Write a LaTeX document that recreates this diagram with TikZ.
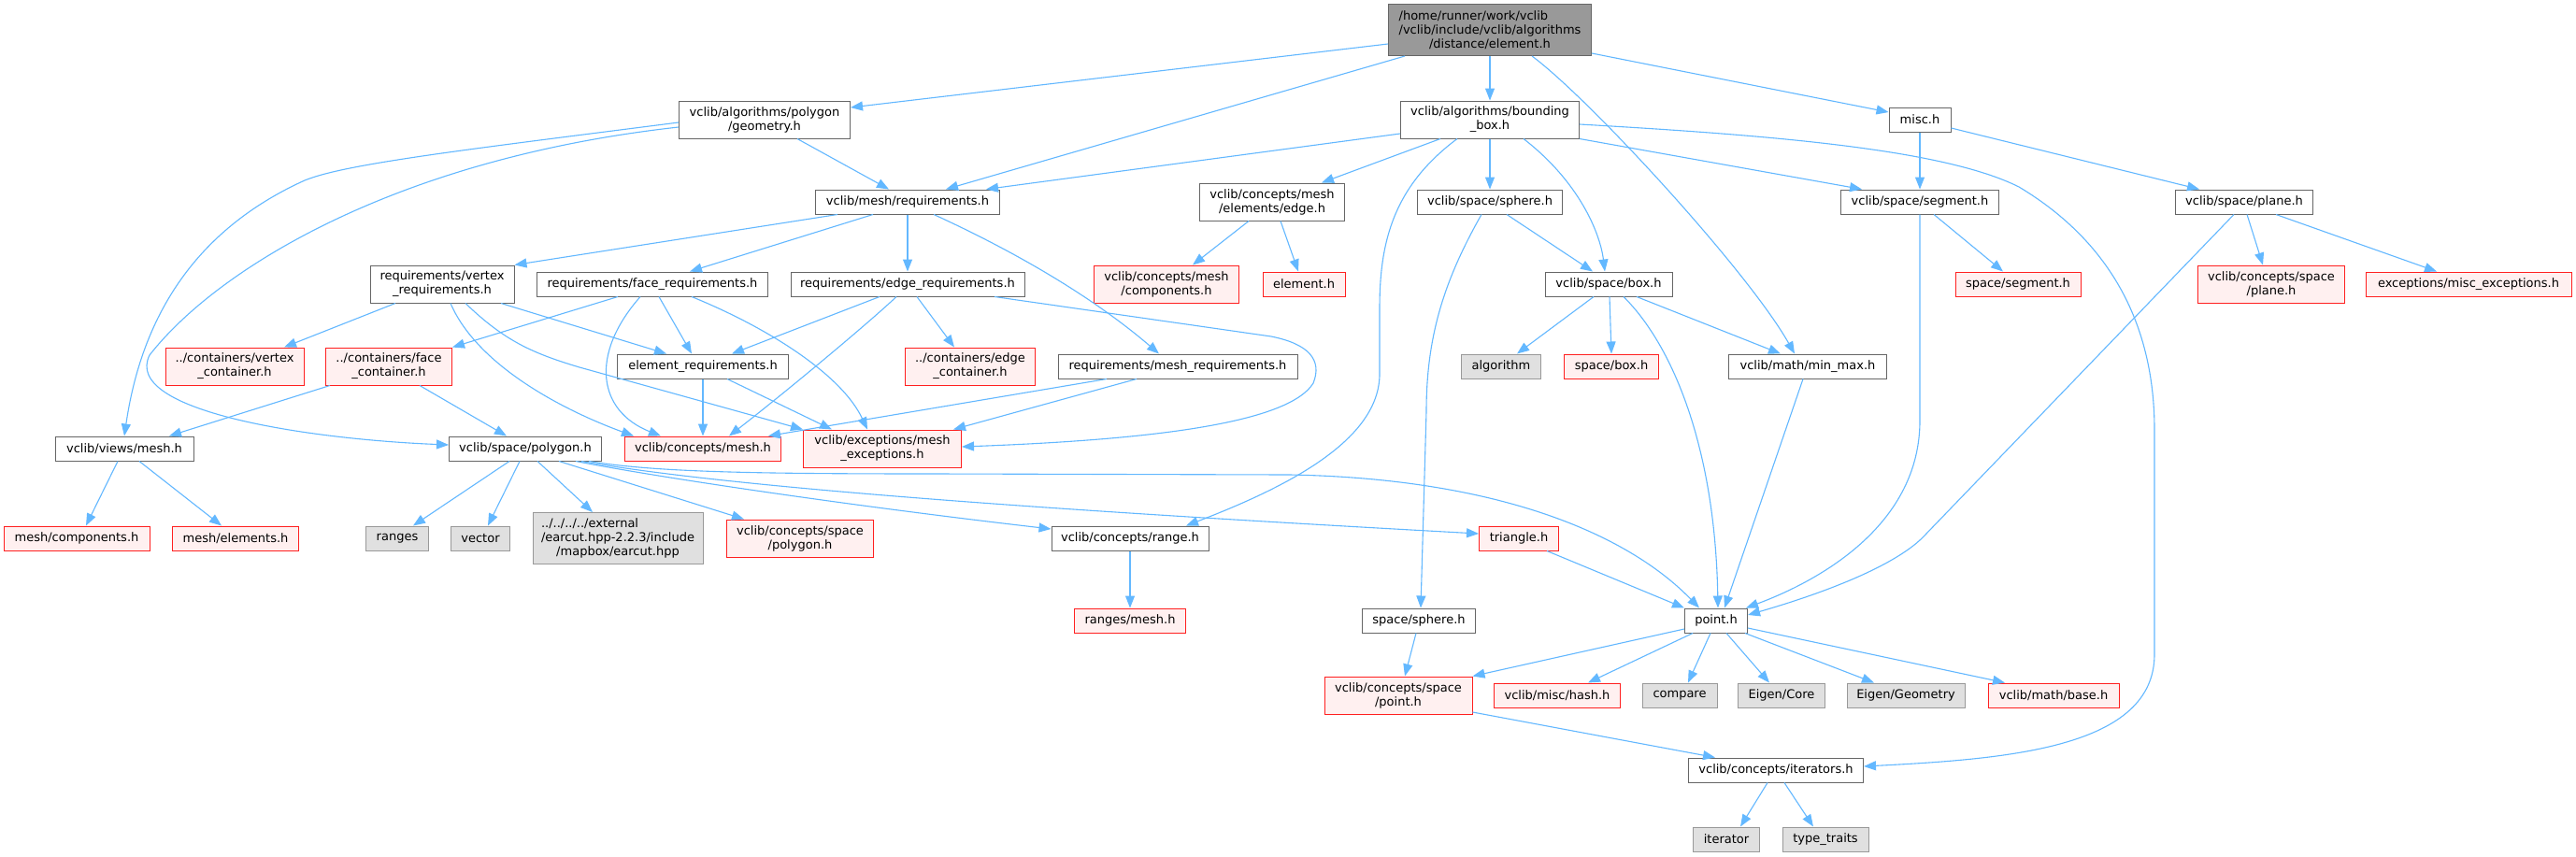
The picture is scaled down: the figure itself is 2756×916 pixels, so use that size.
\documentclass[tikz,border=0pt]{standalone}
\usepackage{fontspec}
\setmainfont{DejaVu Sans}
\usetikzlibrary{arrows.meta,calc}
\definecolor{edgec}{HTML}{63B8FF}
\definecolor{bordc}{HTML}{666666}
\definecolor{mainf}{HTML}{999999}
\definecolor{redf}{HTML}{FFF0F0}
\definecolor{redb}{HTML}{FF2020}
\definecolor{sysf}{HTML}{E0E0E0}
\definecolor{sysb}{HTML}{999999}
\tikzset{
  nbase/.style={rectangle, draw=bordc, line width=1pt, fill=white, inner xsep=6pt, inner ysep=0pt,
    align=center, font=\fontsize{13}{15}\selectfont, text=black, minimum height=26pt},
  two/.style={minimum height=40pt},
  three/.style={minimum height=55pt},
  redn/.style={nbase, draw=redb, fill=redf},
  sysn/.style={nbase, draw=sysb, fill=sysf},
  mainn/.style={nbase, draw=bordc, fill=mainf},
  dep/.style={draw=edgec, line width=1.1pt, -{Triangle[length=13pt,width=10pt]}},
}
\begin{document}
\begin{tikzpicture}[x=1pt,y=-1pt]
\useasboundingbox[fill=white] (0,0) rectangle (2756,916);
% row 0
\node[mainn, three, minimum width=217pt] (main) at (1594,32) {\rlap{/home/runner/work/vclib}\phantom{/vclib/include/vclib/algorithms}\\/vclib/include/vclib/algorithms\\/distance/element.h};
% row 1
\node[nbase, two, minimum width=183pt] (geom) at (818,128) {vclib/algorithms/polygon\\/geometry.h};
\node[nbase, two, minimum width=191pt] (bbox) at (1594,128) {vclib/algorithms/bounding\\\_box.h};
\node[nbase, minimum width=66pt] (misc) at (2054,128) {misc.h};
% row 2
\node[nbase, minimum width=197pt] (req) at (971,216) {vclib/mesh/requirements.h};
\node[nbase, two, minimum width=155pt] (edge) at (1361,216) {vclib/concepts/mesh\\/elements/edge.h};
\node[nbase, minimum width=155pt] (sphere) at (1594,216) {vclib/space/sphere.h};
\node[nbase, minimum width=169pt] (segment) at (2054,216) {vclib/space/segment.h};
\node[nbase, minimum width=147pt] (plane) at (2401,216) {vclib/space/plane.h};
% row 3
\node[nbase, two, minimum width=154pt] (vreq) at (473,304) {requirements/vertex\\\_requirements.h};
\node[nbase, minimum width=247pt] (freq) at (698,304) {requirements/face\_requirements.h};
\node[nbase, minimum width=250pt] (ereq) at (971,304) {requirements/edge\_requirements.h};
\node[redn, two, minimum width=155pt] (cmcomp) at (1248,304) {vclib/concepts/mesh\\/components.h};
\node[redn, minimum width=88pt] (elemh) at (1395,304) {element.h};
\node[nbase, minimum width=136pt] (box) at (1721,304) {vclib/space/box.h};
\node[redn, minimum width=134pt] (ssegment) at (2159,304) {space/segment.h};
\node[redn, two, minimum width=157pt] (cplane) at (2430,304) {vclib/concepts/space\\/plane.h};
\node[redn, minimum width=220pt] (miscexc) at (2641,304) {exceptions/misc\_exceptions.h};
% row 4
\node[redn, two, minimum width=148pt] (vcont) at (251,392) {../containers/vertex\\\_container.h};
\node[redn, two, minimum width=135pt] (fcont) at (416,392) {../containers/face\\\_container.h};
\node[nbase, minimum width=183pt] (elreq) at (752,392) {element\_requirements.h};
\node[redn, two, minimum width=139pt] (econt) at (1038,392) {../containers/edge\\\_container.h};
\node[nbase, minimum width=256pt] (mreq) at (1260,392) {requirements/mesh\_requirements.h};
\node[sysn, minimum width=85pt] (algorithm) at (1606,392) {algorithm};
\node[redn, minimum width=101pt] (sbox) at (1724,392) {space/box.h};
\node[nbase, minimum width=169pt] (minmax) at (1934,392) {vclib/math/min\_max.h};
% row 5
\node[nbase, minimum width=148pt] (views) at (133,480) {vclib/views/mesh.h};
\node[nbase, minimum width=163pt] (polygon) at (562,480) {vclib/space/polygon.h};
\node[redn, minimum width=167pt] (cmesh) at (752,480) {vclib/concepts/mesh.h};
\node[redn, two, minimum width=169pt] (mexc) at (944,480) {vclib/exceptions/mesh\\\_exceptions.h};
% row 6
\node[redn, minimum width=156pt] (mcomp) at (82,576) {mesh/components.h};
\node[redn, minimum width=135pt] (melem) at (252,576) {mesh/elements.h};
\node[sysn, minimum width=67pt] (ranges) at (425,576) {ranges};
\node[sysn, minimum width=63pt] (vector) at (514,576) {vector};
\node[sysn, three, minimum width=182pt] (earcut) at (661,576) {\rlap{../../../../external}\phantom{/earcut.hpp-2.2.3/include}\\/earcut.hpp-2.2.3/include\\/mapbox/earcut.hpp};
\node[redn, two, minimum width=157pt] (cpoly) at (856,576) {vclib/concepts/space\\/polygon.h};
\node[nbase, minimum width=168pt] (range) at (1209,576) {vclib/concepts/range.h};
\node[redn, minimum width=85pt] (triangle) at (1625,576) {triangle.h};
% row 7
\node[redn, minimum width=119pt] (rmesh) at (1209,664) {ranges/mesh.h};
\node[nbase, minimum width=121pt] (ssphere) at (1518,664) {space/sphere.h};
\node[nbase, minimum width=67pt] (point) at (1836,664) {point.h};
% row 8
\node[redn, two, minimum width=158pt] (cpoint) at (1496,744) {vclib/concepts/space\\/point.h};
\node[redn, minimum width=135pt] (hash) at (1666,744) {vclib/misc/hash.h};
\node[sysn, minimum width=80pt] (compare) at (1797,744) {compare};
\node[sysn, minimum width=93pt] (ecore) at (1906,744) {Eigen/Core};
\node[sysn, minimum width=126pt] (egeom) at (2039,744) {Eigen/Geometry};
\node[redn, minimum width=140pt] (base) at (2197,744) {vclib/math/base.h};
% row 9
\node[nbase, minimum width=187pt] (iters) at (1900,824) {vclib/concepts/iterators.h};
% row 10
\node[sysn, minimum width=71pt] (iterator) at (1847,898) {iterator};
\node[sysn, minimum width=92pt] (ttraits) at (1953,898) {type\_traits};

% ---- edges ----
% main
\draw[dep] ($(main.west)+(0,15)$) -- ($(geom.east)+(0,-13)$);
\draw[dep] ($(main.south)+(-91,0)$) -- ($(req.north)+(41,0)$);
\draw[dep] (main.south) -- (bbox.north);
\draw[dep] ($(main.south)+(45,0)$) .. controls (1700,105) and (1870,290) .. ($(minmax.north)+(-14,0)$);
\draw[dep] ($(main.east)+(0,25)$) -- ($(misc.west)+(0,-8)$);
% geometry
\draw[dep] ($(geom.south)+(35,0)$) -- ($(req.north)+(-20,0)$);
\draw[dep] ($(geom.west)+(0,3)$) .. controls (500,160) and (370,175) .. (326,193) .. controls (200,250) and (150,350) .. (views.north);
\draw[dep] ($(geom.west)+(0,8)$) .. controls (420,170) and (230,290) .. (160,380) .. controls (130,440) and (330,470) .. ($(polygon.west)+(0,-4)$);
% mesh/requirements
\draw[dep] ($(req.south)+(-75,0)$) -- (vreq.north east);
\draw[dep] ($(req.south)+(-37,0)$) -- ($(freq.north)+(40,0)$);
\draw[dep] (req.south) -- (ereq.north);
\draw[dep] ($(req.south)+(28,0)$) .. controls (1070,262) and (1160,310) .. ($(mreq.north)+(-20,0)$);
% bounding box
\draw[dep] ($(bbox.west)+(0,15)$) -- ($(req.north)+(84,0)$);
\draw[dep] ($(bbox.south)+(-53,0)$) -- ($(edge.north)+(53,0)$);
\draw[dep] (bbox.south) -- (sphere.north);
\draw[dep] ($(bbox.south)+(36,0)$) .. controls (1690,195) and (1712,250) .. ($(box.north)+(-4,0)$);
\draw[dep] (bbox.south east) -- ($(segment.north)+(-62,0)$);
\draw[dep] ($(bbox.east)+(0,5)$) .. controls (1900,145) and (2080,160) .. (2160,200) .. controls (2260,260) and (2305,350) .. (2305,460) -- (2305,700) .. controls (2305,800) and (2150,812) .. ($(iters.east)+(0,-4)$);
\draw[dep] ($(bbox.south)+(-35,0)$) .. controls (1490,200) and (1476,260) .. (1476,330) -- (1476,400) .. controls (1476,470) and (1380,520) .. ($(range.north)+(60,0)$);
% misc
\draw[dep] (misc.south) -- (segment.north);
\draw[dep] ($(misc.east)+(0,9)$) -- ($(plane.north)+(-48,0)$);
% edge.h
\draw[dep] ($(edge.south)+(-25,0)$) -- ($(cmcomp.north)+(28,0)$);
\draw[dep] ($(edge.south)+(9,0)$) -- ($(elemh.north)+(-6,0)$);
% sphere
\draw[dep] ($(sphere.south)+(18,0)$) -- ($(box.north)+(-17,0)$);
\draw[dep] ($(sphere.south)+(-9,0)$) .. controls (1545,300) and (1526,360) .. (1526,440) -- ($(ssphere.north)+(2,0)$);
% box
\draw[dep] ($(box.south)+(-16,0)$) -- ($(algorithm.north)+(17,0)$);
\draw[dep] ($(box.south)+(1,0)$) -- (sbox.north);
\draw[dep] ($(box.south)+(30,0)$) -- ($(minmax.north)+(-29,0)$);
\draw[dep] ($(box.south)+(16,0)$) .. controls (1790,370) and (1835,480) .. ($(point.north)+(2,0)$);
% min_max
\draw[dep] ($(minmax.south)+(-5,0)$) -- ($(point.north)+(9,0)$);
% segment
\draw[dep] ($(segment.south)+(15,0)$) -- ($(ssegment.north)+(-16,0)$);
\draw[dep] (segment.south) -- (2054,450) .. controls (2054,560) and (1950,620) .. ($(point.north east)+(-2,0)$);
% plane
\draw[dep] ($(plane.south)+(-11,0)$) -- (2060,572) .. controls (2030,605) and (1950,635) .. ($(point.east)+(0,-6)$);
\draw[dep] ($(plane.south)+(3,0)$) -- ($(cplane.north)+(-9,0)$);
\draw[dep] ($(plane.south)+(34,0)$) -- ($(miscexc.north)+(-34,0)$);
% vertex requirements
\draw[dep] ($(vreq.south)+(-50,0)$) -- ($(vcont.north)+(53,0)$);
\draw[dep] ($(vreq.south)+(63,0)$) -- ($(elreq.north)+(-39,0)$);
\draw[dep] ($(vreq.south)+(9,0)$) .. controls (510,390) and (600,438) .. ($(cmesh.north)+(-74,0)$);
\draw[dep] ($(vreq.south)+(25,0)$) .. controls (540,365) and (570,378) .. (620,393) -- (mexc.north west);
% face requirements
\draw[dep] ($(freq.south)+(-37,0)$) -- (fcont.north east);
\draw[dep] ($(freq.south)+(7,0)$) -- ($(elreq.north)+(-12,0)$);
\draw[dep] ($(freq.south)+(-13,0)$) .. controls (630,380) and (640,440) .. ($(cmesh.north)+(-45,0)$);
\draw[dep] ($(freq.south)+(42,0)$) .. controls (820,350) and (900,400) .. ($(mexc.north)+(-16,0)$);
% edge requirements
\draw[dep] ($(ereq.south)+(-30,0)$) -- ($(elreq.north)+(31,0)$);
\draw[dep] ($(ereq.south)+(10,0)$) -- ($(econt.north)+(-17,0)$);
\draw[dep] ($(ereq.south)+(-12,0)$) .. controls (930,345) and (840,420) .. ($(cmesh.north)+(28,0)$);
\draw[dep] ($(ereq.south)+(93,0)$) -- (1360,360) .. controls (1400,368) and (1415,385) .. (1405,410) .. controls (1380,450) and (1250,470) .. ($(mexc.east)+(0,-2)$);
% element requirements
\draw[dep] (elreq.south) -- (cmesh.north);
\draw[dep] ($(elreq.south)+(26,0)$) -- ($(mexc.north)+(-54,0)$);
% mesh requirements
\draw[dep] ($(mreq.south)+(-76,0)$) -- ($(cmesh.north)+(70,0)$);
\draw[dep] ($(mreq.south)+(-44,0)$) -- ($(mexc.north)+(76,0)$);
% face container
\draw[dep] ($(fcont.south)+(-63,0)$) -- ($(views.north)+(48,0)$);
\draw[dep] ($(fcont.south)+(33,0)$) -- ($(polygon.north)+(-20,0)$);
% views
\draw[dep] ($(views.south)+(-7,0)$) -- ($(mcomp.north)+(10,0)$);
\draw[dep] ($(views.south)+(16,0)$) -- ($(melem.north)+(-15,0)$);
% polygon
\draw[dep] ($(polygon.south)+(-17,0)$) -- ($(ranges.north)+(17,0)$);
\draw[dep] ($(polygon.south)+(-6,0)$) -- ($(vector.north)+(8,0)$);
\draw[dep] ($(polygon.south)+(13,0)$) -- ($(earcut.north)+(-27,0)$);
\draw[dep] ($(polygon.south)+(36,0)$) -- ($(cpoly.north)+(-60,0)$);
\draw[dep] ($(polygon.south)+(54,0)$) .. controls (700,510) and (900,540) .. ($(range.west)+(0,-10)$);
\draw[dep] ($(polygon.south)+(60,0)$) .. controls (800,525) and (1200,550) .. ($(triangle.west)+(0,-5)$);
\draw[dep] ($(polygon.south)+(68,0)$) .. controls (700,505) and (800,507) .. (1000,507) -- (1380,508) .. controls (1600,512) and (1740,570) .. ($(point.north)+(-18,0)$);
% range, triangle, sphere
\draw[dep] (range.south) -- (rmesh.north);
\draw[dep] ($(triangle.south)+(30,0)$) -- (point.north west);
\draw[dep] ($(ssphere.south)+(-3,0)$) -- ($(cpoint.north)+(7,0)$);
% point
\draw[dep] ($(point.west)+(0,9)$) -- (cpoint.north east);
\draw[dep] ($(point.south)+(-25,0)$) -- ($(hash.north)+(33,0)$);
\draw[dep] ($(point.south)+(-6,0)$) -- ($(compare.north)+(9,0)$);
\draw[dep] ($(point.south)+(11,0)$) -- ($(ecore.north)+(-13,0)$);
\draw[dep] ($(point.south)+(31,0)$) -- ($(egeom.north)+(-34,0)$);
\draw[dep] ($(point.east)+(0,8)$) -- ($(base.north)+(-52,0)$);
% concepts/space/point, iterators
\draw[dep] ($(cpoint.east)+(0,18)$) -- ($(iters.north)+(-65,0)$);
\draw[dep] ($(iters.south)+(-9,0)$) -- ($(iterator.north)+(15,0)$);
\draw[dep] ($(iters.south)+(9,0)$) -- ($(ttraits.north)+(-13,0)$);
\end{tikzpicture}
\end{document}
